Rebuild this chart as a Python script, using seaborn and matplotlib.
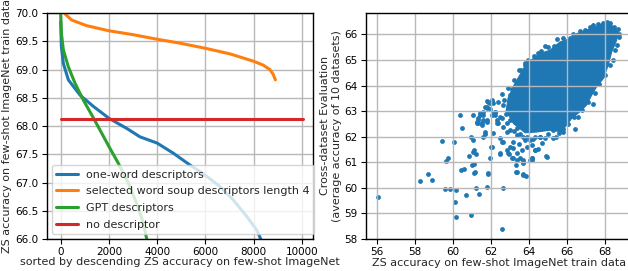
import matplotlib
matplotlib.use("Agg")
import matplotlib.pyplot as plt
import seaborn as sns
import pandas as pd

# ---------------- data: left panel (sorted curves) ----------------
one_word_x = [0, 28, 110, 318, 802, 1355, 2000, 2739, 3292, 4000, 4675, 5367, 6000, 6611, 7165, 7718, 8133, 8299, 8360]
one_word_y = [69.85, 69.41, 69.11, 68.82, 68.55, 68.35, 68.14, 67.96, 67.81, 67.70, 67.52, 67.31, 67.13, 66.93, 66.69, 66.40, 66.16, 66.0, 65.95]

soup_x = [120, 200, 456, 1079, 2000, 3015, 4000, 4951, 6000, 7026, 8000, 8409, 8686, 8824, 8907]
soup_y = [70.03, 69.98, 69.88, 69.78, 69.69, 69.62, 69.54, 69.47, 69.38, 69.28, 69.15, 69.08, 69.0, 68.91, 68.82]

gpt_x = [0, 28, 110, 318, 595, 941, 1286, 1632, 2000, 2393, 2808, 3154, 3430, 3568, 3620]
gpt_y = [69.97, 69.65, 69.35, 69.05, 68.76, 68.46, 68.20, 67.93, 67.64, 67.34, 66.99, 66.63, 66.28, 66.0, 65.9]

no_desc_x = [0, 10050]
no_desc_y = [68.13, 68.13]

series_names = ["one-word descriptors", "selected word soup descriptors length 4",
                "GPT descriptors", "no descriptor"]

# ---------------- data: right panel (scatter) ----------------
# dense core of the point cloud (outline)
core_x = [63.87, 64.57, 65.10, 65.62, 66.15, 66.50, 67.02, 67.46, 67.90, 68.34, 68.68, 68.60,
          68.34, 68.16, 67.90, 67.55, 67.29, 67.02, 66.67, 66.24, 65.97, 65.71, 65.10, 64.40,
          63.80, 63.20, 62.80, 62.90, 63.20, 63.55]
core_y = [64.86, 65.25, 65.38, 65.70, 65.84, 66.03, 66.16, 66.29, 66.42, 66.36, 66.09, 65.77,
          65.31, 64.79, 64.27, 63.95, 63.62, 63.23, 62.97, 62.71, 62.45, 62.19, 62.25, 62.18,
          62.15, 62.50, 63.00, 63.50, 64.00, 64.45]

pts_x = [56.08, 58.27, 58.69, 58.92, 59.41, 59.73, 59.65, 59.59, 59.85, 60.18, 60.09, 60.16,
         60.06, 60.37, 60.50, 60.67, 60.95, 60.44, 60.58, 60.83, 60.99, 61.12, 61.12, 61.21,
         61.35, 61.77, 61.83, 61.04, 61.11, 61.20, 60.95, 61.04, 62.02, 61.67, 61.60, 62.61,
         62.58, 62.47, 62.96, 63.14, 63.33, 63.70, 63.82, 63.30, 63.70, 64.14, 64.90, 64.45,
         67.37, 66.41, 68.28, 66.58, 64.31,
         61.25, 61.33, 61.42, 61.33, 61.51, 61.69, 61.86, 61.95, 62.12, 62.21, 62.30, 61.60,
         61.77, 62.38, 62.04,
         63.78, 63.87, 63.52, 63.70, 63.09, 63.43, 62.56, 63.00, 63.35, 62.04, 61.77, 62.38,
         62.65, 63.09, 63.70, 61.60, 61.42, 62.12, 62.91, 63.61,
         62.21, 62.47, 61.77, 61.51, 61.69, 62.12, 62.47, 62.65, 62.04, 62.47, 63.00, 63.17,
         62.91, 63.09, 63.35, 63.70, 63.61, 64.14, 63.35, 63.70, 64.05, 63.00, 63.52, 64.05,
         64.31, 64.31, 62.82, 63.17, 63.70,
         64.57, 64.84, 65.27, 64.92, 64.14,
         64.82, 65.48, 66.15, 66.93, 67.37, 67.90, 68.28, 68.72, 63.78, 64.48, 61.77,
         64.60, 65.00, 65.40, 63.90, 64.20, 65.60, 63.50, 63.90, 64.70, 63.20,
         63.20, 63.50, 62.90, 62.70, 63.30, 62.80, 63.60,
         68.50, 68.40, 68.00, 67.70, 67.45, 67.10, 66.80, 66.35, 66.05, 65.80,
         61.07, 61.25, 61.33, 61.60, 61.77, 61.95, 62.21, 62.30, 62.56, 62.65, 62.82, 63.00,
         63.17, 63.35, 63.52, 63.70, 63.78, 64.14, 64.31, 63.17, 63.35, 63.52, 63.70, 64.05,
         62.56, 62.82, 61.95, 61.16, 61.86, 63.35, 63.70, 64.57, 65.27, 65.80,
         63.60, 63.95, 64.25, 64.65, 65.00, 65.30, 65.80, 66.30, 66.70, 67.20, 67.60, 68.10,
         68.45, 68.65, 68.75, 68.60]
pts_y = [59.65, 60.27, 60.52, 60.29, 61.82, 61.16, 61.03, 59.94, 59.95, 59.91, 59.45, 58.84,
         61.77, 62.84, 62.34, 59.70, 58.93, 60.69, 60.73, 61.24, 60.89, 60.93, 60.59, 59.99,
         59.77, 60.02, 60.54, 61.41, 61.47, 61.30, 61.99, 61.86, 61.58, 62.12, 61.99, 60.00,
         58.39, 61.33, 61.32, 61.15, 60.60, 60.54, 60.47, 60.90, 61.07, 61.16, 61.23, 61.51,
         63.26, 62.28, 64.79, 62.77, 61.47,
         62.58, 62.71, 62.84, 62.52, 62.45, 63.16, 63.36, 63.10, 63.30, 62.97, 62.64, 62.64,
         62.58, 62.52, 62.84,
         64.79, 64.47, 64.21, 64.14, 63.88, 63.88, 63.65, 63.62, 63.55, 63.43, 63.13, 63.36,
         63.23, 63.23, 63.36, 62.97, 62.91, 62.91, 62.97, 63.04,
         62.97, 62.77, 62.64, 62.52, 62.19, 62.13, 61.93, 61.80, 61.60, 61.34, 61.60, 61.80,
         61.34, 61.15, 61.08, 60.95, 61.47, 61.08, 62.06, 61.99, 61.86, 62.25, 62.45, 62.52,
         62.32, 61.99, 62.52, 62.64, 62.84,
         61.99, 61.93, 61.93, 61.21, 61.15,
         65.54, 65.81, 65.86, 66.19, 66.36, 66.46, 66.46, 66.00, 64.88, 65.27, 63.40,
         62.00, 62.10, 62.00, 62.00, 61.90, 62.15, 61.70, 61.60, 61.75, 62.20,
         64.20, 64.60, 63.90, 63.45, 63.10, 62.90, 62.90,
         65.40, 65.00, 64.40, 64.05, 63.70, 63.35, 63.05, 62.75, 62.50, 62.30,
         62.84, 62.52, 62.64, 62.84, 63.16, 63.30, 62.84, 62.52, 62.71, 62.38, 62.19, 62.64,
         62.91, 62.32, 62.12, 62.52, 61.86, 61.67, 61.47, 61.54, 61.34, 61.15, 61.02, 61.08,
         61.80, 61.47, 61.15, 60.63, 60.56, 60.63, 60.50, 61.99, 62.25, 62.19,
         64.60, 65.00, 65.15, 65.35, 65.50, 65.55, 65.85, 66.00, 66.15, 66.30, 66.40, 66.50,
         66.30, 66.20, 65.90, 65.60]

left_xticks = [0, 2000, 4000, 6000, 8000, 10000]
left_yticks = [66.0, 66.5, 67.0, 67.5, 68.0, 68.5, 69.0, 69.5, 70.0]
right_xticks = [56, 58, 60, 62, 64, 66, 68]
right_yticks = [58, 59, 60, 61, 62, 63, 64, 65, 66]

# ---------------- style ----------------
sns.set_style("ticks")
plt.rcParams.update({
    "font.family": ["DejaVu Sans"],
    "font.size": 8,
    "axes.labelsize": 8,
    "xtick.labelsize": 7.5,
    "ytick.labelsize": 7.5,
    "legend.fontsize": 8,
    "axes.edgecolor": "black",
    "axes.linewidth": 1.0,
    "xtick.color": "black",
    "ytick.color": "black",
    "xtick.major.size": 3.5,
    "ytick.major.size": 3.5,
    "xtick.major.pad": 2.5,
    "ytick.major.pad": 2.5,
    "grid.color": "#b8b8b8",
    "grid.linewidth": 1.0,
})

blue, orange, green, red = "#1f77b4", "#ff7f0e", "#2ca02c", "#d62728"

fig = plt.figure(figsize=(6.28, 2.71), dpi=100)
ax1 = fig.add_axes([0.0744, 0.118, 0.4245, 0.833])
ax2 = fig.add_axes([0.5828, 0.119, 0.4245, 0.834])

# ---------------- left panel ----------------
for xs, ys, c, name in [(one_word_x, one_word_y, blue, series_names[0]),
                        (soup_x, soup_y, orange, series_names[1]),
                        (gpt_x, gpt_y, green, series_names[2]),
                        (no_desc_x, no_desc_y, red, series_names[3])]:
    df = pd.DataFrame({"x": xs, "y": ys})
    sns.lineplot(data=df, x="x", y="y", color=c, lw=2.2, ax=ax1, label=name,
                 sort=False, estimator=None)

ax1.set_xlim(-580, 10480)
ax1.set_ylim(66.0, 70.0)
ax1.set_xticks(left_xticks)
ax1.set_yticks(left_yticks)
ax1.set_yticklabels([f"{v:.1f}" for v in left_yticks])
ax1.grid(True)
ax1.set_axisbelow("line")
ax1.set_xlabel("sorted by descending ZS accuracy on few-shot ImageNet", labelpad=0)
ax1.set_ylabel("ZS accuracy on few-shot ImageNet train data", labelpad=2)
leg = ax1.legend(loc="lower left", framealpha=0.8, borderaxespad=0.45,
                 handlelength=2.0, labelspacing=0.6, borderpad=0.4, handletextpad=0.7)
leg.get_frame().set_edgecolor("#cccccc")
for s in ax1.spines.values():
    s.set_visible(True)

# ---------------- right panel ----------------
ax2.fill(core_x, core_y, color=blue, lw=0.8, zorder=1)
sns.scatterplot(x=pts_x, y=pts_y, color=blue, s=12, linewidth=0, ax=ax2, zorder=1)
ax2.set_xlim(55.44, 69.44)
ax2.set_ylim(58.0, 66.85)
ax2.set_xticks(right_xticks)
ax2.set_yticks(right_yticks)
ax2.grid(True)
ax2.set_axisbelow("line")
ax2.set_xlabel("ZS accuracy on few-shot ImageNet train data", labelpad=1)
ax2.set_ylabel("Cross-dataset Evaluation\n(average accuracy of 10 datasets)", labelpad=2)
for s in ax2.spines.values():
    s.set_visible(True)

fig.savefig("out.png", dpi=100)
